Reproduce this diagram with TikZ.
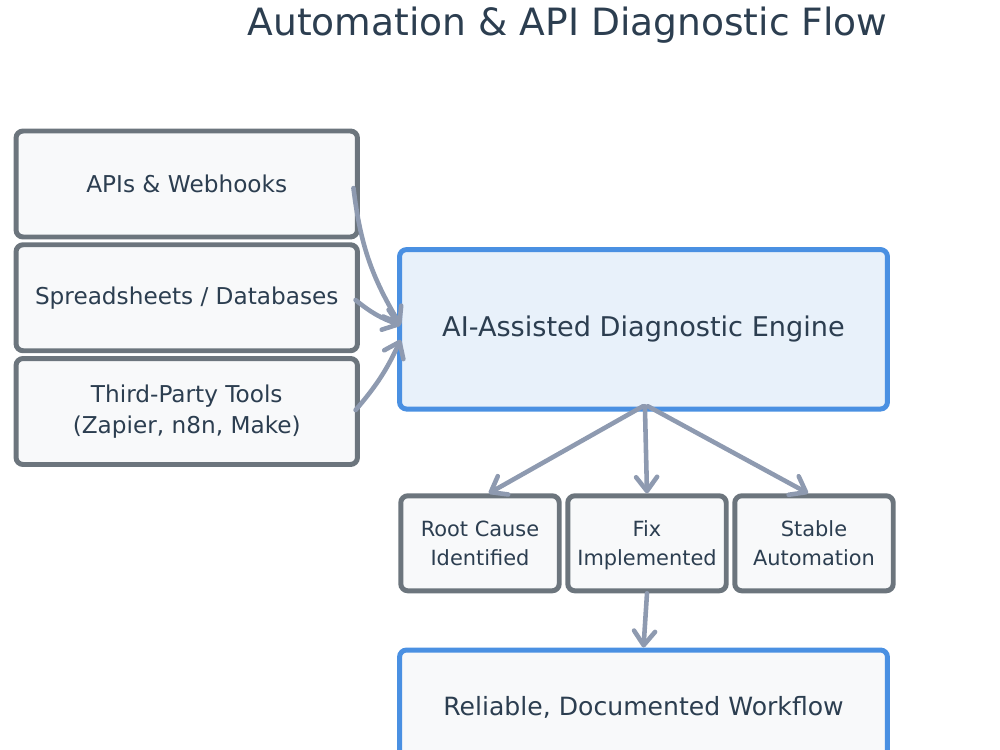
\documentclass[tikz,border=0pt]{standalone}
\usepackage{fontspec}
\setmainfont{DejaVu Sans}
\usetikzlibrary{arrows.meta,calc}
\definecolor{txt}{HTML}{2C3E50}
\definecolor{boxline}{HTML}{6C757D}
\definecolor{boxfill}{HTML}{F8F9FA}
\definecolor{blueline}{HTML}{4A90E2}
\definecolor{bluefill}{HTML}{E8F1FA}
\definecolor{arrowc}{HTML}{8E9AB0}
\newcommand{\lift}{\rule{0pt}{11pt}}
\begin{document}
\begin{tikzpicture}[x=0.02cm,y=-0.02cm,
  graybox/.style={draw=boxline, fill=boxfill, line width=2.83pt, rounded corners=4pt,
    text=txt, align=center, inner sep=0pt},
  inbox/.style={graybox, minimum width=6.83cm, minimum height=2.12cm,
    font=\fontsize{13.2}{18}\selectfont},
  outbox/.style={graybox, minimum width=3.17cm, minimum height=1.9cm,
    font=\fontsize{11.9}{16.4}\selectfont},
  bigbox/.style={draw=blueline, line width=2.83pt, rounded corners=4pt, text=txt,
    align=center, inner sep=0pt, minimum width=9.76cm},
  flow/.style={draw=arrowc, line width=2.6pt, line cap=round,
    -{Straight Barb[length=8pt,width=12pt,line cap=round,line join=round]}}]
\useasboundingbox (0,0) rectangle (1000,750);
\node[text=txt, font=\fontsize{21.4}{26}\selectfont] (title) at (567.5,25) {Automation \& API Diagnostic Flow};
\node[inbox] (apis) at (186.75,184) {APIs \& Webhooks};
\node[inbox] (sheets) at (186.75,297.75) {Spreadsheets / Databases};
\node[inbox] (tools) at (186.75,411.5) {Third-Party Tools\\(Zapier, n8n, Make)};
\node[bigbox, fill=bluefill, minimum height=3.19cm, font=\fontsize{15.45}{18}\selectfont] (engine) at (643.5,329.3) {AI-Assisted Diagnostic Engine};
\node[outbox] (root) at (480,543.3) {\lift Root Cause\\Identified\vphantom{p}};
\node[outbox] (fix) at (647,543.3) {\lift Fix\\Implemented};
\node[outbox] (stable) at (814,543.3) {\lift Stable\\Automation\vphantom{p}};
\node[bigbox, fill=boxfill, minimum height=2.28cm, font=\fontsize{14.3}{18}\selectfont] (reliable) at (643.5,707) {Reliable, Documented Workflow};
\draw[flow] ([xshift=-3.7pt,yshift=-2.3pt]apis.east) to[bend right=12] ([xshift=2pt,yshift=2.4pt]engine.west);
\draw[flow] ([xshift=-2.5pt,yshift=-1.3pt]sheets.east) to[bend right=10] ([xshift=2pt,yshift=2.4pt]engine.west);
\draw[flow] ([xshift=-2.5pt,yshift=0.8pt]tools.east) to[bend right=8] ([xshift=2pt,yshift=-6pt]engine.west);
\draw[flow] ([xshift=-0.3pt,yshift=3pt]engine.south) -- ([xshift=5pt]root.north);
\draw[flow] ([xshift=0.8pt,yshift=3pt]engine.south) -- (fix.north);
\draw[flow] ([xshift=2.5pt,yshift=3pt]engine.south) -- ([xshift=-3.4pt]stable.north);
\draw[flow] (fix.south) -- (reliable.north);
\end{tikzpicture}
\end{document}
